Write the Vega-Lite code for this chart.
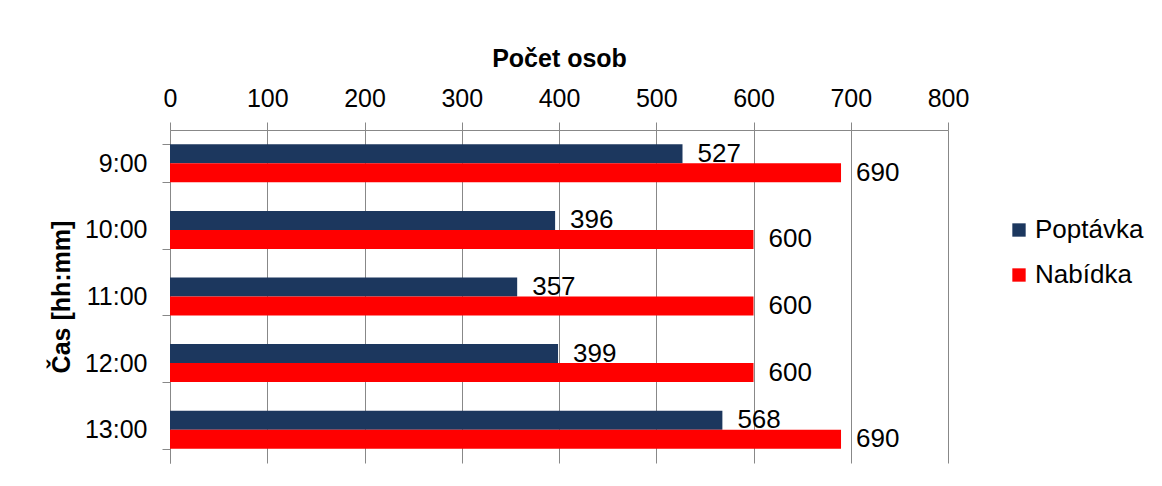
{
  "$schema": "https://vega.github.io/schema/vega-lite/v6.json",
  "width": 778,
  "height": 333,
  "autosize": {"type": "none"},
  "padding": {"left": 170, "top": 130, "right": 214, "bottom": 23},
  "background": "white",
  "config": {"view": {"stroke": null}, "font": "Liberation Sans"},
  "data": {
    "values": [
      {"time": "9:00", "series": "Poptávka", "value": 527},
      {"time": "9:00", "series": "Nabídka", "value": 690},
      {"time": "10:00", "series": "Poptávka", "value": 396},
      {"time": "10:00", "series": "Nabídka", "value": 600},
      {"time": "11:00", "series": "Poptávka", "value": 357},
      {"time": "11:00", "series": "Nabídka", "value": 600},
      {"time": "12:00", "series": "Poptávka", "value": 399},
      {"time": "12:00", "series": "Nabídka", "value": 600},
      {"time": "13:00", "series": "Poptávka", "value": 568},
      {"time": "13:00", "series": "Nabídka", "value": 690}
    ]
  },
  "encoding": {
    "y": {
      "field": "time",
      "type": "nominal",
      "sort": ["9:00", "10:00", "11:00", "12:00", "13:00"],
      "scale": {"paddingInner": 0.43, "paddingOuter": 0.215},
      "axis": {
        "title": "Čas [hh:mm]",
        "titleFontSize": 25,
        "titleFontWeight": "bold",
        "titleColor": "black",
        "titlePadding": 10,
        "labelFontSize": 25,
        "labelColor": "black",
        "labelPadding": 15,
        "tickBand": "extent",
        "tickSize": 8,
        "tickColor": "#888888",
        "domainColor": "#888888",
        "grid": false
      }
    },
    "yOffset": {"field": "series", "type": "nominal", "sort": ["Poptávka", "Nabídka"]},
    "x": {
      "field": "value",
      "type": "quantitative",
      "scale": {"domain": [0, 800]},
      "axis": {
        "orient": "top",
        "values": [0, 100, 200, 300, 400, 500, 600, 700, 800],
        "labelFlush": false,
        "title": "Počet osob",
        "titleFontSize": 25,
        "titleFontWeight": "bold",
        "titleColor": "black",
        "titlePadding": 15,
        "labelFontSize": 25,
        "labelColor": "black",
        "labelPadding": 11,
        "tickSize": 8,
        "tickColor": "#888888",
        "domainColor": "#888888",
        "grid": true,
        "gridColor": "#888888",
        "gridOpacity": 1
      }
    }
  },
  "layer": [
    {
      "mark": {"type": "text", "align": "left", "dx": 15, "baseline": "middle", "fontSize": 26, "color": "black"},
      "encoding": {"text": {"field": "value", "type": "quantitative"}}
    },
    {
      "mark": {"type": "bar"},
      "encoding": {
        "color": {
          "field": "series",
          "type": "nominal",
          "scale": {"domain": ["Poptávka", "Nabídka"], "range": ["#1C375E", "#FF0000"]},
          "legend": {
            "title": null,
            "orient": "none",
            "legendX": 836,
            "legendY": 87,
            "padding": 0,
            "symbolType": "square",
            "symbolSize": 178,
            "symbolStrokeWidth": 0,
            "labelFontSize": 26,
            "labelColor": "black",
            "labelOffset": 3,
            "rowPadding": 19
          }
        }
      }
    }
  ]
}
